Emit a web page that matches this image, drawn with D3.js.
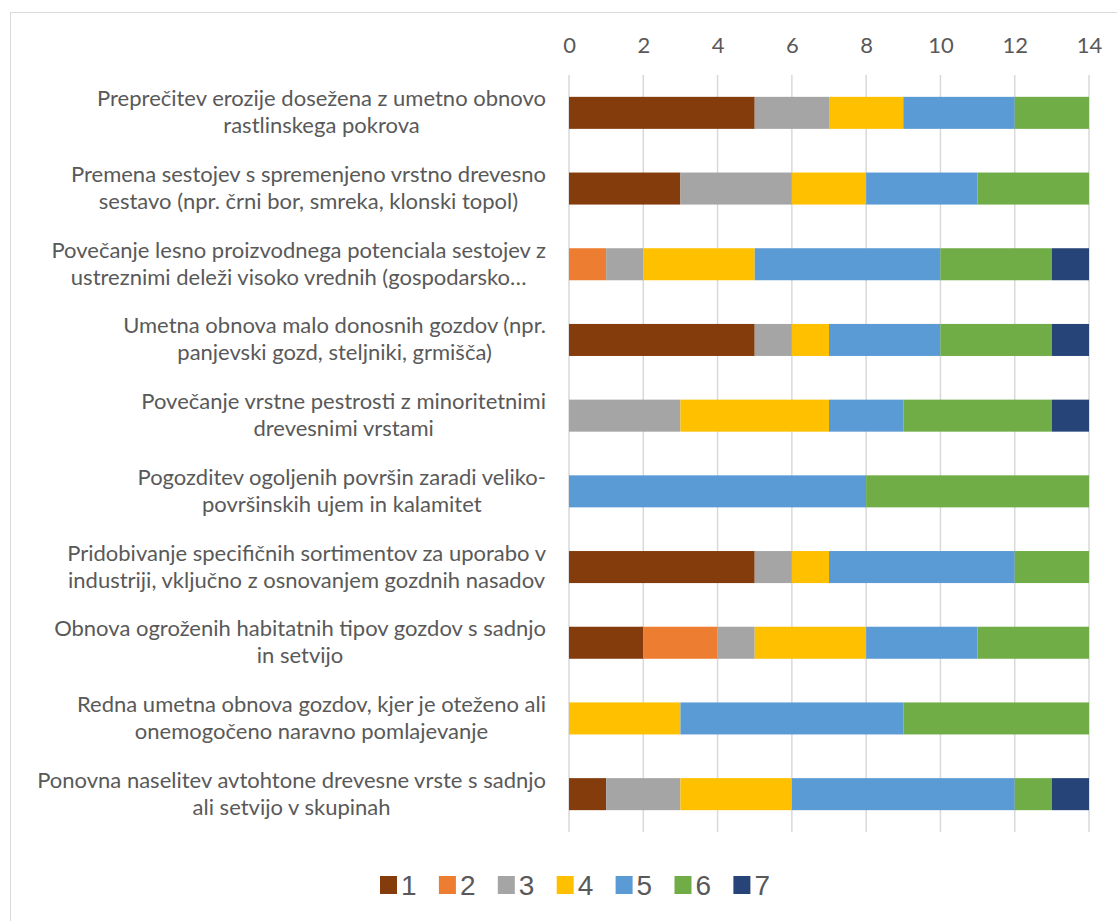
<!DOCTYPE html>
<html>
<head>
<meta charset="utf-8">
<script src="https://cdn.jsdelivr.net/npm/d3@7"></script>
<style>
  body { margin: 0; background: #fff; }
  svg { display: block; }
</style>
</head>
<body>
<div id="chart"></div>
<script>
// category labels, top to bottom (already wrapped in two lines)
const categories = [
  ["Preprečitev erozije dosežena z umetno obnovo", "rastlinskega pokrova"],
  ["Premena sestojev s spremenjeno vrstno drevesno", "sestavo (npr. črni bor, smreka, klonski topol)"],
  ["Povečanje lesno proizvodnega potenciala sestojev z", "ustreznimi deleži visoko vrednih (gospodarsko…"],
  ["Umetna obnova malo donosnih gozdov (npr.", "panjevski gozd, steljniki, grmišča)"],
  ["Povečanje vrstne pestrosti z minoritetnimi", "drevesnimi vrstami"],
  ["Pogozditev ogoljenih površin zaradi veliko-", "površinskih ujem in kalamitet"],
  ["Pridobivanje specifičnih sortimentov za uporabo v", "industriji, vključno z osnovanjem gozdnih nasadov"],
  ["Obnova ogroženih habitatnih tipov gozdov s sadnjo", "in setvijo"],
  ["Redna umetna obnova gozdov, kjer je oteženo ali", "onemogočeno naravno pomlajevanje"],
  ["Ponovna naselitev avtohtone drevesne vrste s sadnjo", "ali setvijo v skupinah"]
];

const seriesNames = ["1", "2", "3", "4", "5", "6", "7"];

// one array per series, same order as categories
const s1 = [5, 3, 0, 5, 0, 0, 5, 2, 0, 1];
const s2 = [0, 0, 1, 0, 0, 0, 0, 2, 0, 0];
const s3 = [2, 3, 1, 1, 3, 0, 1, 1, 0, 2];
const s4 = [2, 2, 3, 1, 4, 0, 1, 3, 3, 3];
const s5 = [3, 3, 5, 3, 2, 8, 5, 3, 6, 6];
const s6 = [2, 3, 3, 3, 4, 6, 2, 3, 5, 1];
const s7 = [0, 0, 1, 1, 1, 0, 0, 0, 0, 1];

const xTicks = [0, 2, 4, 6, 8, 10, 12, 14];
const colours = ["#843C0C", "#ED7D31", "#A5A5A5", "#FFC000", "#5B9BD5", "#70AD47", "#264478"];

const W = 1117, H = 921;
const plot = {left: 569, right: 1089, top: 75, bottom: 832};
const labelRight = 546;
const font = "Lato, 'Open Sans', sans-serif";

const rows = categories.map((c, i) => {
  const r = {key: i};
  [s1, s2, s3, s4, s5, s6, s7].forEach((s, j) => r[seriesNames[j]] = s[i]);
  return r;
});

const stacked = d3.stack().keys(seriesNames)(rows);

const x = d3.scaleLinear().domain([0, 14]).range([plot.left, plot.right]);
const y = d3.scaleBand().domain(d3.range(categories.length))
  .range([plot.top, plot.bottom]).paddingInner(0.577).paddingOuter(0.2885);
const colour = d3.scaleOrdinal().domain(seriesNames).range(colours);

const svg = d3.select("#chart").append("svg")
  .attr("width", W).attr("height", H);

// chart frame
svg.append("rect")
  .attr("x", 10.5).attr("y", 12.5)
  .attr("width", W + 20).attr("height", H + 20)
  .attr("fill", "none").attr("stroke", "#d9d9d9").attr("stroke-width", 1);

// gridlines
svg.append("g").selectAll("line")
  .data(xTicks).enter().append("line")
  .attr("x1", d => x(d)).attr("x2", d => x(d))
  .attr("y1", plot.top).attr("y2", plot.bottom)
  .attr("stroke", "#d9d9d9").attr("stroke-width", 1.5);

// top axis labels
const xAxis = svg.append("g")
  .attr("transform", `translate(0,${plot.top})`)
  .call(d3.axisTop(x).tickValues(xTicks).tickSize(0).tickPadding(22));
xAxis.select(".domain").remove();
xAxis.selectAll("text")
  .attr("font-family", font)
  .attr("font-size", "22px")
  .attr("fill", "#595959");

// bars
svg.append("g").selectAll("g")
  .data(stacked).enter().append("g")
  .attr("fill", d => colour(d.key))
  .selectAll("rect")
  .data(d => d).enter().append("rect")
  .attr("x", d => x(d[0]))
  .attr("width", d => x(d[1]) - x(d[0]))
  .attr("y", (d, i) => y(i))
  .attr("height", y.bandwidth());

// category labels: lines centred on each other, block right-aligned
const labelG = svg.append("g");
categories.forEach((lines, i) => {
  const cy = y(i) + y.bandwidth() / 2;
  const t = labelG.append("text")
    .attr("y", cy)
    .attr("text-anchor", "middle")
    .attr("font-family", font)
    .attr("font-size", "22px")
    .attr("fill", "#595959");
  const spans = lines.map((ln, k) => t.append("tspan")
    .attr("y", cy + (k - 0.5) * 27 + 7)
    .text(ln));
  const w = d3.max(spans, s => s.node().getComputedTextLength());
  spans.forEach(s => s.attr("x", labelRight - w / 2));
});

// legend
const legend = svg.append("g").attr("transform", "translate(380,885)");
const item = legend.selectAll("g")
  .data(seriesNames).enter().append("g")
  .attr("transform", (d, i) => `translate(${i * 58.9},0)`);
item.append("rect")
  .attr("x", 0).attr("y", -9)
  .attr("width", 17).attr("height", 18)
  .attr("fill", d => colour(d));
item.append("text")
  .attr("x", 21).attr("y", 10)
  .attr("font-family", "'Liberation Sans', Arial, sans-serif")
  .attr("font-size", "28px")
  .attr("fill", "#595959")
  .text(d => d);
</script>
</body>
</html>
